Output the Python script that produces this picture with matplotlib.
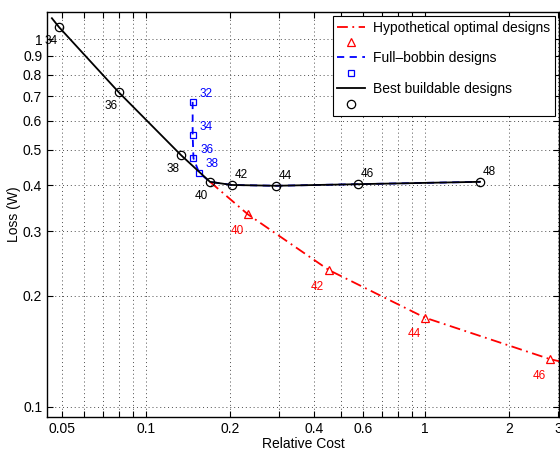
import matplotlib
matplotlib.use('Agg')
import matplotlib.pyplot as plt
from matplotlib.lines import Line2D

plt.rcParams['font.family'] = ['Liberation Sans', 'DejaVu Sans']

# лучшие реализуемые конструкции (линия и маркеры)
best_line_x = [0.046, 0.0488, 0.080, 0.1335, 0.1696, 0.203, 0.292, 0.575, 1.575]
best_line_y = [1.14, 1.078, 0.716, 0.4836, 0.409, 0.401, 0.399, 0.403, 0.409]
best_x = [0.0488, 0.080, 0.1335, 0.1696, 0.203, 0.292, 0.575, 1.575]
best_y = [1.078, 0.716, 0.4836, 0.409, 0.401, 0.399, 0.403, 0.409]
best_labels = ['34', '36', '38', '40', '42', '44', '46', '48']

# конструкции с полной катушкой
bob_line_x = [0.147, 0.147, 0.148, 0.155, 0.1696, 0.203, 0.292, 0.575, 1.575]
bob_line_y = [0.675, 0.548, 0.474, 0.433, 0.409, 0.401, 0.399, 0.403, 0.409]
bob_x = [0.147, 0.147, 0.148, 0.155]
bob_y = [0.675, 0.548, 0.474, 0.433]
bob_labels = ['32', '34', '36', '38']

# гипотетические оптимальные конструкции
opt_line_x = [0.1696, 0.232, 0.452, 1.0, 2.81, 3.3]
opt_line_y = [0.409, 0.3335, 0.2354, 0.1746, 0.1346, 0.131]
opt_x = [0.232, 0.452, 1.0, 2.81]
opt_y = [0.3335, 0.2354, 0.1746, 0.1346]
opt_labels = ['40', '42', '44', '46']

xticks = [0.05, 0.06, 0.07, 0.08, 0.09, 0.1, 0.2, 0.3, 0.4, 0.5, 0.6, 0.7, 0.8, 0.9, 1, 2, 3]
xtick_labels = ['0.05', '', '', '', '', '0.1', '0.2', '', '0.4', '', '0.6', '', '', '', '1', '2', '3']
yticks = [0.1, 0.2, 0.3, 0.4, 0.5, 0.6, 0.7, 0.8, 0.9, 1]
ytick_labels = ['0.1', '0.2', '0.3', '0.4', '0.5', '0.6', '0.7', '0.8', '0.9', '1']

fig = plt.figure(figsize=(5.6, 4.51), dpi=100)
ax = fig.add_axes([0.084, 0.075, 0.914, 0.898])

red = '#ff0000'
blue = '#0000ff'
dashdot = (0, (6, 2.5, 1, 2.5))

ax.plot(opt_line_x, opt_line_y, color=red, linestyle=dashdot, lw=1.3)
ax.plot(opt_x, opt_y, linestyle='none', marker='^', ms=6, mfc='none', mec=red, mew=0.9)
ax.plot(bob_line_x, bob_line_y, color=blue, linestyle=(0, (4, 3)), lw=1.3)
ax.plot(bob_x, bob_y, linestyle='none', marker='s', ms=4.5, mfc='none', mec=blue, mew=0.9)
ax.plot(best_line_x, best_line_y, color='black', lw=1.3)
ax.plot(best_x, best_y, linestyle='none', marker='o', ms=6, mfc='none', mec='black', mew=0.9)

# подписи точек
for x, y, t in zip(best_x, best_y, best_labels):
    if int(t) <= 40:
        off = (-6, -10)
    else:
        off = (7, 7)
    ax.annotate(t, (x, y), xytext=off, textcoords='offset points',
                ha='center', va='center', fontsize=8.5)
for x, y, t in zip(bob_x, bob_y, bob_labels):
    ax.annotate(t, (x, y), xytext=(9.5, 6), textcoords='offset points',
                ha='center', va='center', fontsize=8.5, color=blue)
for x, y, t in zip(opt_x, opt_y, opt_labels):
    ax.annotate(t, (x, y), xytext=(-8, -12), textcoords='offset points',
                ha='center', va='center', fontsize=8.5, color=red)

ax.set_xscale('log')
ax.set_yscale('log')
ax.set_xlim(0.0442, 3.02)
ax.set_ylim(0.0936, 1.184)
ax.set_xticks(xticks)
ax.set_xticklabels(xtick_labels)
ax.set_yticks(yticks)
ax.set_yticklabels(ytick_labels)
ax.minorticks_off()
ax.tick_params(which='both', direction='in', top=True, right=True, length=4, labelsize=10)
ax.grid(True, linestyle=(0, (1, 3)), color='0.3', lw=0.7)
for s in ax.spines.values():
    s.set_linewidth(1.0)

ax.set_xlabel('Relative Cost', fontsize=10, labelpad=1)
ax.set_ylabel('Loss (W)', fontsize=10, labelpad=1)

handles = [
    Line2D([], [], color=red, linestyle=dashdot, lw=1.3),
    Line2D([], [], linestyle='none', marker='^', ms=6, mfc='none', mec=red, mew=0.9),
    Line2D([], [], color=blue, linestyle=(0, (4, 3)), lw=1.3),
    Line2D([], [], linestyle='none', marker='s', ms=4.5, mfc='none', mec=blue, mew=0.9),
    Line2D([], [], color='black', lw=1.3),
    Line2D([], [], linestyle='none', marker='o', ms=6, mfc='none', mec='black', mew=0.9),
]
labels = ['Hypothetical optimal designs', ' ', 'Full\u2013bobbin designs', ' ',
          'Best buildable designs', ' ']
leg = ax.legend(handles, labels, loc='upper right', fontsize=10, fancybox=False,
                edgecolor='black', framealpha=1, borderaxespad=0.3,
                handlelength=2.0, handletextpad=0.6, labelspacing=0.1, borderpad=0.3)
leg.get_frame().set_linewidth(0.8)

plt.savefig('out.png', dpi=100)
